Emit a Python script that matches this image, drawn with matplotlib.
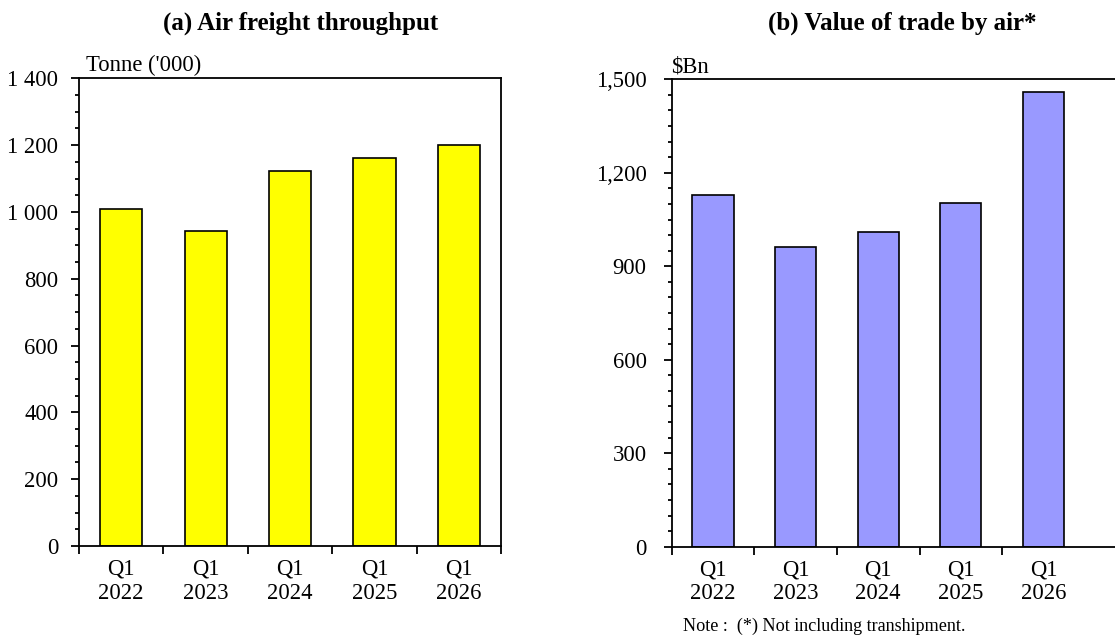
import matplotlib.pyplot as plt
from matplotlib.ticker import FuncFormatter, MultipleLocator, FixedLocator

plt.rcParams['font.family'] = ['Liberation Serif', 'DejaVu Serif']

quarters = ["Q1\n2022", "Q1\n2023", "Q1\n2024", "Q1\n2025", "Q1\n2026"]
freight = [1008, 944, 1124, 1161, 1199]      # tonne ('000)
trade_value = [1128, 963, 1011, 1104, 1459]  # $Bn

fig = plt.figure(figsize=(11.15, 6.37), dpi=100)
W, H = 1115, 637

def make_axes(x0, x1, ytop, ybot):
    return fig.add_axes([x0 / W, 1 - ybot / H, (x1 - x0) / W, (ybot - ytop) / H])

ax1 = make_axes(79, 501, 78.3, 546)
ax2 = make_axes(671.7, 1125, 79.3, 546.7)

x = list(range(len(quarters)))

ax1.bar(x, freight, width=0.5, color="#ffff00", edgecolor="black", linewidth=1.2)
ax2.bar(x, trade_value, width=0.5, color="#9999ff", edgecolor="black", linewidth=1.2)

ax1.set_xlim(-0.5, 4.5)
ax1.set_ylim(0, 1400)
ax1.yaxis.set_major_locator(MultipleLocator(200))
ax1.yaxis.set_minor_locator(MultipleLocator(50))
ax1.yaxis.set_major_formatter(FuncFormatter(lambda v, p: f"{int(v):,}".replace(",", " ")))
ax1.xaxis.set_major_locator(FixedLocator([-0.5, 0.5, 1.5, 2.5, 3.5, 4.5]))

ax2.set_xlim(-0.5, -0.5 + (1125 - 671.7) / 82.6)
ax2.set_ylim(0, 1500)
ax2.yaxis.set_major_locator(MultipleLocator(300))
ax2.yaxis.set_minor_locator(MultipleLocator(50))
ax2.yaxis.set_major_formatter(FuncFormatter(lambda v, p: f"{int(v):,}"))
ax2.xaxis.set_major_locator(FixedLocator([-0.5, 0.5, 1.5, 2.5, 3.5]))

for ax, ypad in ((ax1, 9), (ax2, 12)):
    for s in ax.spines.values():
        s.set_linewidth(1.3)
    ax.set_xticks(x, quarters, minor=True)
    ax.tick_params(axis="x", which="major", direction="out", length=6, width=1.3, labelbottom=False)
    ax.tick_params(axis="x", which="minor", length=0, pad=9, labelsize=16.3)
    ax.tick_params(axis="y", which="major", direction="out", length=6, width=1.3, pad=ypad, labelsize=16.3)
    ax.tick_params(axis="y", which="minor", direction="out", length=3, width=1.3)
    ax.tick_params(right=False, top=False)

fig.text(301 / W, 1 - 30 / H, "(a) Air freight throughput", fontsize=18, fontweight="bold", ha="center")
fig.text(902 / W, 1 - 30 / H, "(b) Value of trade by air*", fontsize=18, fontweight="bold", ha="center")
fig.text(86 / W, 1 - 71 / H, "Tonne ('000)", fontsize=16.3)
fig.text(671 / W, 1 - 72 / H, r"\$Bn", fontsize=16.3)
fig.text(683 / W, 1 - 631 / H, "Note :  (*) Not including transhipment.", fontsize=13.1)

fig.savefig("out.png", dpi=100)
